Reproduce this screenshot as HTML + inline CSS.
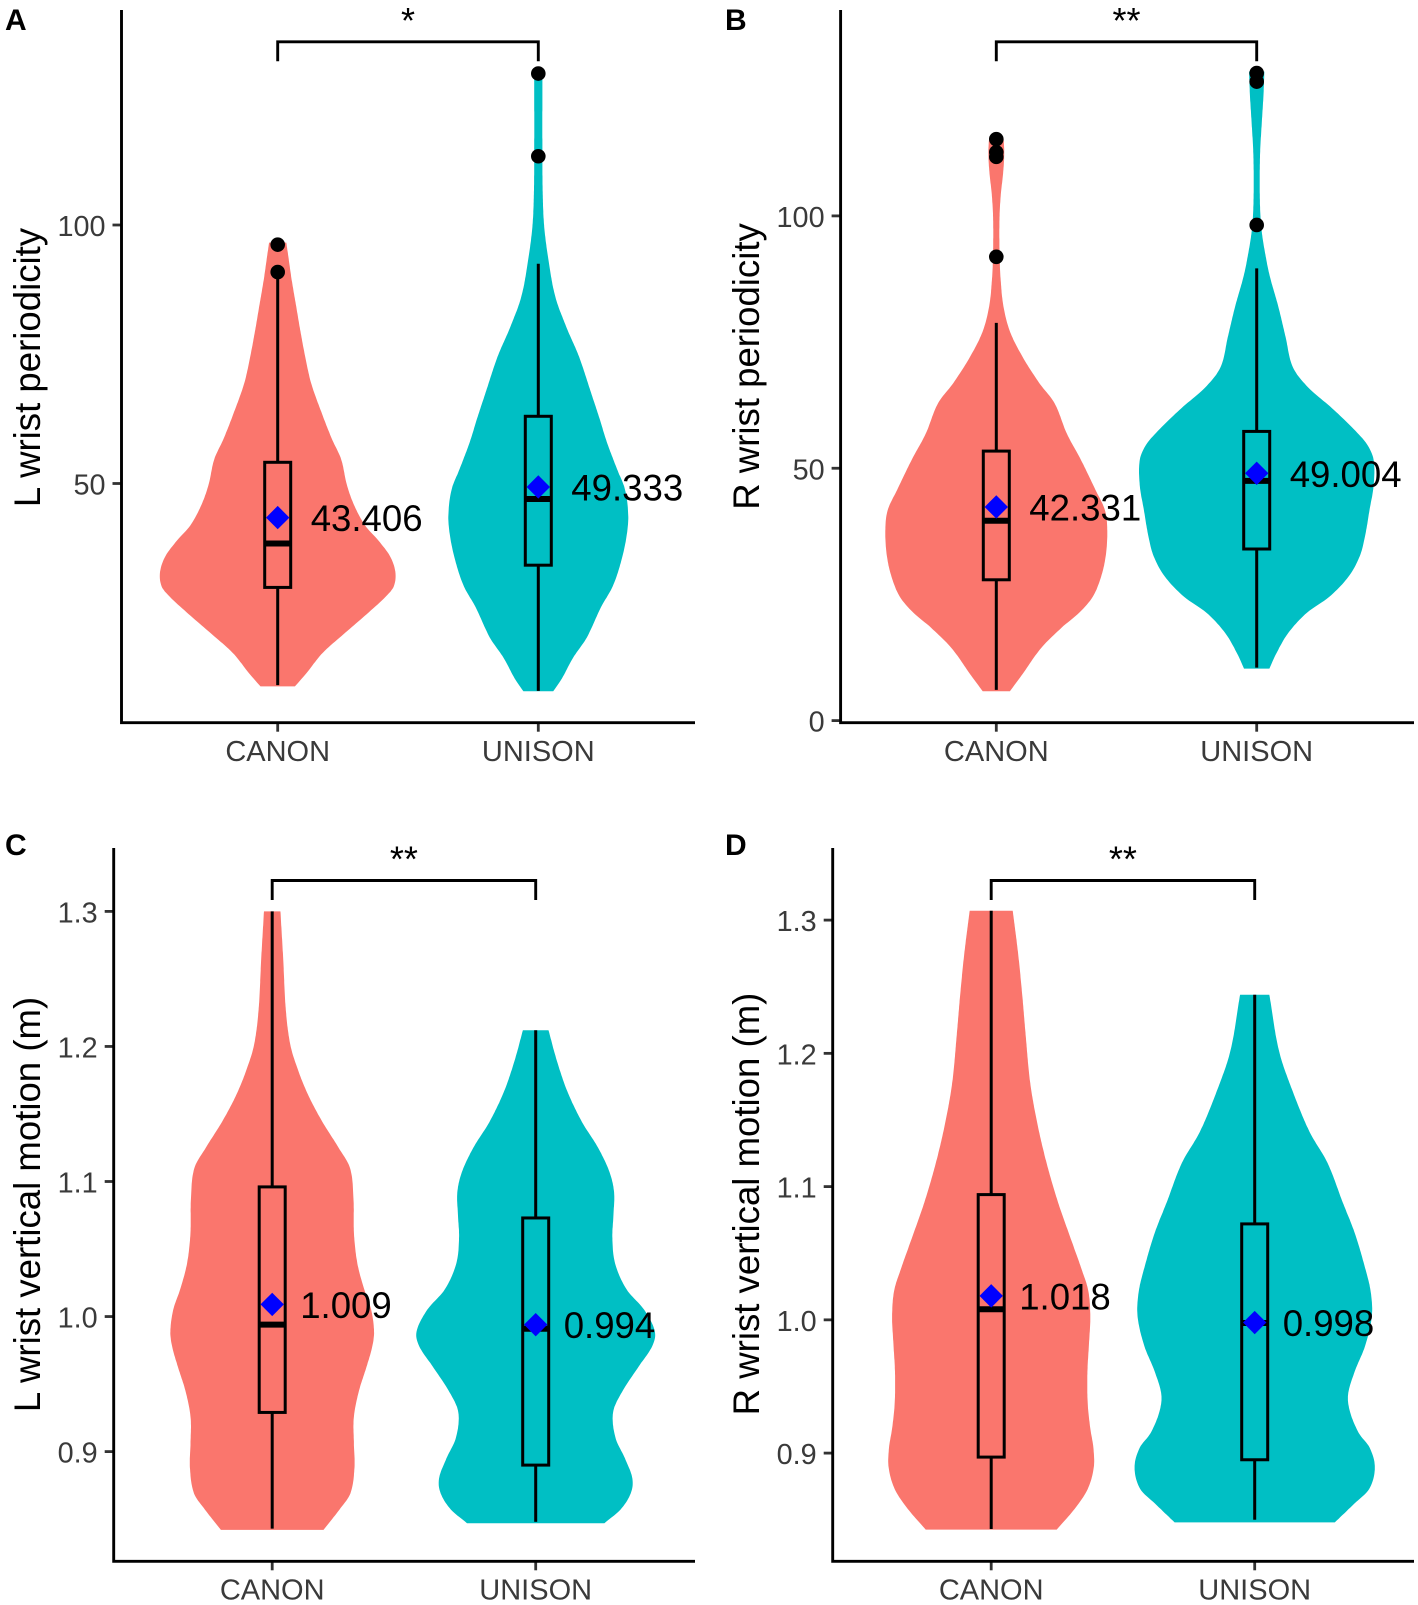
<!DOCTYPE html>
<html lang="en">
<head>
<meta charset="utf-8">
<title>Wrist periodicity and vertical motion violin plots</title>
<style>
html,body{margin:0;padding:0;background:#fff;}
svg{display:block;font-family:"Liberation Sans",Arial,sans-serif;}
</style>
</head>
<body>
<svg id="figure" xmlns="http://www.w3.org/2000/svg" width="1418" height="1605" viewBox="0 0 1418 1605"></svg>
<script>
const categories = ['CANON', 'UNISON'];
const periodicityTicksA = [50, 100];
const periodicityTicksB = [0, 50, 100];
const motionTicks = [0.9, 1.0, 1.1, 1.2, 1.3];

// Panel A
const aCanonValues = [10.75,13.3,17.3,21.2,25.1,28.1,30.1,33,36,39,41.9,45.9,49.8,54.7,58.7,64.6,69.5,74.5,79.4,84.3,89.3,94.2,96.6];
const aCanonDensity = [38,60,95,150,205,245,258,264,252,222,192,165,151,143,123,88,73,60,50,41,31,21,19];
const aUnisonValues = [9.8,12.3,16.3,20.2,26.1,30.1,35,39.9,43.9,48.8,52.8,57.7,62.6,67.6,74.5,80.4,86.3,94.2,100,106,113.9,129.4];
const aUnisonDensity = [33,50,76,105,142,165,185,197,201,195,175,150,135,120,90,60,35,18,12,9,9,9];
const aCanonBox = [11, 29.9, 38.4, 54.1, 90.9];
const aUnisonBox = [9.9, 34.2, 47, 63, 92.5];
const aCanonOutliers = [96.2, 90.9];
const aUnisonOutliers = [129.3, 113.3];
const aMeans = [43.406, 49.333];

// Panel B
const bCanonValues = [5.8,9.3,14.4,18.4,21.4,24.5,28.5,32.6,37.6,41.7,45.7,51.8,56.8,62.9,66.9,72,77,82.1,87.2,92.2,99.3,104.3,108.4,112.4,115.5];
const bCanonDensity = [30,52,100,145,186,216,233,243,247,243,226,181,156,131,96,56,26,14,9,7,6,9,16,19,16];
const bUnisonValues = [10.3,13.3,17.4,21.4,24.5,28.5,32.6,36.6,41.7,46.7,51.8,54.8,57.8,61.9,66,70,76,82.1,88.2,94.2,98.3,104.3,112.4,118.5,123.6,128.6];
const bUnisonDensity = [28,40,65,110,160,210,230,240,247,262,262,245,220,170,105,75,65,50,25,14,9,6,6,12,15,17];
const bCanonBox = [6.1, 27.9, 39.6, 53.4, 78.8];
const bUnisonBox = [10.5, 34, 47.5, 57.3, 89.6];
const bCanonOutliers = [115.2, 112.6, 111.7, 91.9];
const bUnisonOutliers = [128.3, 126.6, 98.2];
const bMeans = [42.331, 49.004];

// Panel C
const cCanonValues = [0.842,0.857,0.869,0.888,0.906,0.925,0.944,0.963,0.978,0.989,1.005,1.02,1.039,1.061,1.088,1.11,1.125,1.144,1.163,1.182,1.201,1.227,1.265,1.3];
const cCanonDensity = [112,150,175,183,178,175,185,210,220,225,220,200,185,175,180,175,150,105,80,55,38,28,25,18];
const cUnisonValues = [0.847,0.857,0.869,0.88,0.895,0.91,0.929,0.944,0.963,0.978,0.989,1.005,1.02,1.039,1.058,1.076,1.092,1.107,1.125,1.144,1.167,1.19,1.212];
const cUnisonDensity = [150,190,210,220,195,170,163,180,230,260,268,245,190,170,165,170,175,165,140,100,65,45,28];
const cCanonBox = [0.843, 0.929, 0.994, 1.096, 1.3];
const cUnisonBox = [0.848, 0.89, 0.991, 1.073, 1.212];
const cMeans = [1.009, 0.994];

// Panel D
const dCanonValues = [0.8426,0.858,0.873,0.889,0.904,0.919,0.938,0.961,0.984,1.003,1.022,1.038,1.061,1.088,1.118,1.149,1.179,1.214,1.244,1.275,1.307];
const dCanonDensity = [143,185,215,228,225,215,210,208,215,218,215,200,175,145,120,98,83,75,68,60,47];
const dUnisonValues = [0.848,0.862,0.873,0.889,0.904,0.915,0.931,0.944,0.961,0.981,1.003,1.022,1.042,1.065,1.088,1.118,1.141,1.172,1.202,1.244];
const dUnisonDensity = [175,220,255,270,255,225,205,198,215,245,262,255,240,220,195,160,120,80,50,32];
const dCanonBox = [0.843, 0.897, 1.008, 1.094, 1.307];
const dUnisonBox = [0.85, 0.895, 0.9976, 1.072, 1.244];
const dMeans = [1.018, 0.998];

const NS = 'http://www.w3.org/2000/svg';
const figure = document.getElementById('figure');
const fills = ['#FA766D', '#00BFC4'];

function make(parent, tag, attrs, text) {
  const el = document.createElementNS(NS, tag);
  for (const k in attrs) el.setAttribute(k, attrs[k]);
  if (text !== undefined) el.textContent = text;
  parent.appendChild(el);
  return el;
}

// The widths are hand-read, so soften reading noise before splining the outline.
function softened(widths) {
  return widths.map((w, i) => {
    if (i === 0 || i === widths.length - 1) return w;
    return 0.25 * widths[i - 1] + 0.5 * w + 0.25 * widths[i + 1];
  });
}

// Hermite spline of half-width against pixel y, honouring uneven sample spacing.
function sampleOutline(ys, ws) {
  const slopes = ys.map((y, i) => {
    const a = Math.max(i - 1, 0), b = Math.min(i + 1, ys.length - 1);
    return (ws[b] - ws[a]) / (ys[b] - ys[a]);
  });
  const out = [];
  for (let i = 0; i < ys.length - 1; i++) {
    const h = ys[i + 1] - ys[i];
    const n = Math.max(2, Math.ceil(Math.abs(h) / 2));
    for (let j = 0; j < n; j++) {
      const t = j / n, t2 = t * t, t3 = t2 * t;
      const w = (2 * t3 - 3 * t2 + 1) * ws[i] + (t3 - 2 * t2 + t) * h * slopes[i] +
        (-2 * t3 + 3 * t2) * ws[i + 1] + (t3 - t2) * h * slopes[i + 1];
      out.push([ys[i] + t * h, w]);
    }
  }
  out.push([ys[ys.length - 1], ws[ws.length - 1]]);
  return out;
}

function drawPanel(cfg) {
  const yScale = v => cfg.y0 + (v - cfg.v0) * (cfg.y1 - cfg.y0) / (cfg.v1 - cfg.v0);
  const xScale = i => cfg.xFirst + i * cfg.xStep;
  const densityScale = d => d * cfg.densityUnit;

  const g = make(figure, 'g', {});
  
  

  categories.forEach((cat, i) => {
    const s = cfg.series[i];
    const cx = xScale(i);
    const outline = sampleOutline(s.values.map(yScale), softened(s.density).map(densityScale));
    const right = outline.map(p => (cx + p[1]).toFixed(1) + ' ' + p[0].toFixed(1));
    const left = outline.map(p => (cx - p[1]).toFixed(1) + ' ' + p[0].toFixed(1)).reverse();
    const violin = make(g, 'path', { d: 'M' + right.concat(left).join('L') + 'Z', fill: fills[i] });
    
    

    const b = s.box;
    const whiskerLow = make(g, 'line', { x1: cx, x2: cx, y1: yScale(b[0]), y2: yScale(b[1]), stroke: '#000', 'stroke-width': 3 });
    
    
    const whiskerHigh = make(g, 'line', { x1: cx, x2: cx, y1: yScale(b[3]), y2: yScale(b[4]), stroke: '#000', 'stroke-width': 3 });
    
    
    const box = make(g, 'rect', { x: cx - 13, width: 26, y: yScale(b[3]), height: yScale(b[1]) - yScale(b[3]), fill: 'none', stroke: '#000', 'stroke-width': 3 });
    
    
    const median = make(g, 'line', { x1: cx - 13, x2: cx + 13, y1: yScale(b[2]), y2: yScale(b[2]), stroke: '#000', 'stroke-width': 6 });
    
    

    (s.outliers || []).forEach(o => {
      const pt = make(g, 'circle', { cx: cx, cy: yScale(o), r: 7.3, fill: '#000' });
      
      
    });

    const my = yScale(s.mean);
    const diamond = make(g, 'polygon', { points: (cx - 11.7) + ',' + my + ' ' + cx + ',' + (my - 11.7) + ' ' + (cx + 11.7) + ',' + my + ' ' + cx + ',' + (my + 11.7), fill: '#0000FF' });
    
    
    const meanLabel = make(g, 'text', { x: cx + cfg.labelOffset, y: my + 13.5, 'font-size': 36.6, fill: '#000' }, s.mean.toFixed(3));
    
    

    const xTick = make(g, 'line', { x1: cx, x2: cx, y1: cfg.axisY, y2: cfg.axisY + 9, stroke: '#333', 'stroke-width': 2.8 });
    
    
    const xLabel = make(g, 'text', { x: cx, y: cfg.axisY + 38.4, 'font-size': 29, fill: '#3a3a3a', 'text-anchor': 'middle' }, cat);
    
    
  });

  cfg.ticks.forEach(t => {
    const yTick = make(g, 'line', { x1: cfg.axisX - 9, x2: cfg.axisX, y1: yScale(t), y2: yScale(t), stroke: '#333', 'stroke-width': 2.8 });
    
    
    const yLabel = make(g, 'text', { x: cfg.axisX - 16, y: yScale(t) + 11, 'font-size': 28.8, fill: '#3a3a3a', 'text-anchor': 'end' }, t.toFixed(cfg.tickDigits));
    
    
  });

  const spine = make(g, 'path', { d: 'M' + cfg.axisX + ' ' + cfg.axisTop + 'V' + cfg.axisY + 'H' + cfg.axisRight, fill: 'none', stroke: '#000', 'stroke-width': 2.9 });
  
  

  const title = make(g, 'text', { transform: 'translate(' + cfg.titleX + ' ' + cfg.titleY + ') rotate(-90)', 'font-size': 36.6, fill: '#000', 'text-anchor': 'middle' }, cfg.title);
  
  

  const panelLabel = make(g, 'text', { x: cfg.letterX, y: cfg.letterY, 'font-size': 30, 'font-weight': 'bold', fill: '#000' }, cfg.letter);
  
  

  const x0 = xScale(0), x1 = xScale(1);
  const bracket = make(g, 'path', { d: 'M' + x0 + ' ' + cfg.bracketLeg + 'V' + cfg.bracketY + 'H' + x1 + 'V' + cfg.bracketLeg, fill: 'none', stroke: '#000', 'stroke-width': 2.9 });
  
  
  const stars = make(g, 'text', { x: (x0 + x1) / 2, y: cfg.bracketY - 9, 'font-size': 36, fill: '#000', 'text-anchor': 'middle' }, cfg.stars);
  
  
}

drawPanel({
  name: 'panel-a', letter: 'A', letterX: 5, letterY: 30, title: 'L wrist periodicity', titleX: 40, titleY: 367.5,
  v0: 50, y0: 483.5, v1: 100, y1: 225, ticks: periodicityTicksA, tickDigits: 0,
  axisX: 121.5, axisTop: 10, axisY: 722.7, axisRight: 695, xFirst: 277.7, xStep: 260.6, densityUnit: 0.453, labelOffset: 33,
  bracketY: 41.8, bracketLeg: 61.2, stars: '*',
  series: [
    { values: aCanonValues, density: aCanonDensity, box: aCanonBox, outliers: aCanonOutliers, mean: aMeans[0] },
    { values: aUnisonValues, density: aUnisonDensity, box: aUnisonBox, outliers: aUnisonOutliers, mean: aMeans[1] }
  ]
});
drawPanel({
  name: 'panel-b', letter: 'B', letterX: 725, letterY: 30, title: 'R wrist periodicity', titleX: 759, titleY: 366.5,
  v0: 0, y0: 720.6, v1: 100, y1: 215.9, ticks: periodicityTicksB, tickDigits: 0,
  axisX: 840.6, axisTop: 10, axisY: 722.7, axisRight: 1414, xFirst: 996.3, xStep: 260.4, densityUnit: 0.453, labelOffset: 33,
  bracketY: 41.8, bracketLeg: 61.2, stars: '**',
  series: [
    { values: bCanonValues, density: bCanonDensity, box: bCanonBox, outliers: bCanonOutliers, mean: bMeans[0] },
    { values: bUnisonValues, density: bUnisonDensity, box: bUnisonBox, outliers: bUnisonOutliers, mean: bMeans[1] }
  ]
});
drawPanel({
  name: 'panel-c', letter: 'C', letterX: 5, letterY: 855, title: 'L wrist vertical motion (m)', titleX: 40, titleY: 1204.5,
  v0: 0.9, y0: 1451.6, v1: 1.3, y1: 911.4, ticks: motionTicks, tickDigits: 1,
  axisX: 113.7, axisTop: 848, axisY: 1561.3, axisRight: 695, xFirst: 272.2, xStep: 263.5, densityUnit: 0.4577, labelOffset: 28,
  bracketY: 880.5, bracketLeg: 900, stars: '**',
  series: [
    { values: cCanonValues, density: cCanonDensity, box: cCanonBox, mean: cMeans[0] },
    { values: cUnisonValues, density: cUnisonDensity, box: cUnisonBox, mean: cMeans[1] }
  ]
});
drawPanel({
  name: 'panel-d', letter: 'D', letterX: 725, letterY: 855, title: 'R wrist vertical motion (m)', titleX: 759, titleY: 1204,
  v0: 0.9, y0: 1453.1, v1: 1.3, y1: 920.1, ticks: motionTicks, tickDigits: 1,
  axisX: 832.7, axisTop: 848, axisY: 1561.3, axisRight: 1414, xFirst: 991.2, xStep: 263.5, densityUnit: 0.4577, labelOffset: 28,
  bracketY: 880.5, bracketLeg: 900, stars: '**',
  series: [
    { values: dCanonValues, density: dCanonDensity, box: dCanonBox, mean: dMeans[0] },
    { values: dUnisonValues, density: dUnisonDensity, box: dUnisonBox, mean: dMeans[1] }
  ]
});
</script>
</body>
</html>
